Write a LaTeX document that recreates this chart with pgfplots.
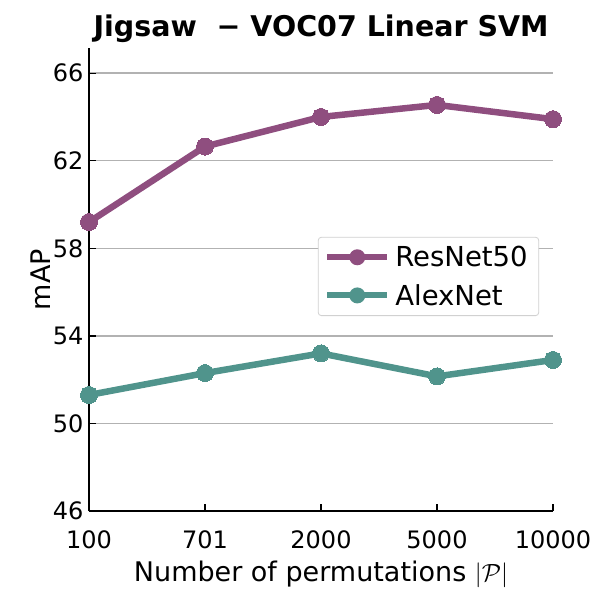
\documentclass[border=0pt]{standalone}
\usepackage{pgfplots}
\pgfplotsset{compat=1.18}
\usepackage{fontspec}
\setmainfont{DejaVu Sans}
\setsansfont{DejaVu Sans}
\definecolor{resnet}{RGB}{143,78,127}
\definecolor{alexnet}{RGB}{80,148,140}
\definecolor{gridgray}{RGB}{178,178,178}
\begin{document}
\begin{tikzpicture}
\useasboundingbox (-89pt,-95pt) rectangle (520pt,511pt);
\begin{axis}[
  at={(0pt,0pt)}, anchor=south west,
  scale only axis, width=464pt, height=463pt,
  xmin=0, xmax=4, ymin=46, ymax=67.15,
  xtick={0,1,2,3,4},
  xticklabels={100,701,2000,5000,10000},
  ytick={46,50,54,58,62,66},
  axis lines*=left,
  axis line style={line width=1.4pt, black},
  tick style={line width=1.3pt, black},
  tick align=inside,
  major tick length=7pt,
  ymajorgrids,
  grid style={line width=1.4pt, gridgray},
  /pgf/number format/assume math mode=true,
  tick label style={font=\fontsize{24}{28}\selectfont},
  xticklabel style={yshift=-16pt},
  yticklabel style={xshift=-2pt},
  label style={font=\fontsize{27}{32}\selectfont},
  xlabel={Number of permutations $|\mathcal{P}|$},
  xlabel style={yshift=-5pt},
  ylabel={mAP},
  ylabel style={yshift=-4pt},
  title={Jigsaw\ \ −\ VOC07 Linear SVM},
  title style={font=\fontsize{28.5}{34}\selectfont\bfseries, yshift=-4pt},
  clip=false,
  legend style={at={(0.97,0.592)}, anchor=north east,
    font=\fontsize{27.5}{32}\selectfont,
    draw=gridgray!60, line width=0.8pt, rounded corners=3pt,
    row sep=12pt, inner xsep=6pt, inner ysep=7pt,
    nodes={inner xsep=5pt}},
  legend cell align=left,
  legend image code/.code={
    \draw[#1, line width=6pt] (0pt,0pt) -- (60pt,0pt);
    \fill[#1, draw=none] (30pt,0pt) circle (8pt);
  },
]
\addplot[color=resnet, line width=6.5pt, mark=*, mark size=8.5pt, mark options={solid, draw=resnet, fill=resnet, line width=0pt}]
  coordinates {(0,59.2) (1,62.65) (2,64.0) (3,64.55) (4,63.9)};
\addlegendentry{ResNet50}
\addplot[color=alexnet, line width=6.5pt, mark=*, mark size=8.5pt, mark options={solid, draw=alexnet, fill=alexnet, line width=0pt}]
  coordinates {(0,51.3) (1,52.3) (2,53.2) (3,52.15) (4,52.9)};
\addlegendentry{AlexNet}
\end{axis}
\end{tikzpicture}
\end{document}
